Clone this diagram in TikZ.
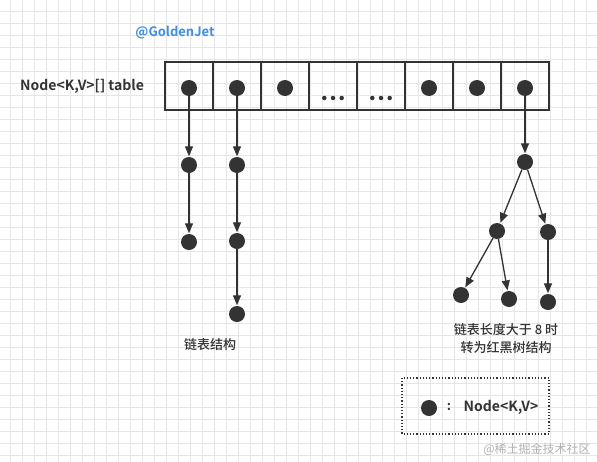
\documentclass[tikz,border=0pt]{standalone}
\usepackage{fontspec}
\setmainfont{Noto Sans CJK SC}[BoldFont={Noto Sans CJK SC Bold}]
\newfontfamily\medfont{Noto Sans CJK SC Medium}
\usetikzlibrary{arrows.meta}
\definecolor{ink}{HTML}{333333}
\definecolor{gridc}{HTML}{E6E6E6}
\definecolor{jet}{HTML}{3D8FE0}
\tikzset{
  dot/.style={circle,fill=ink,inner sep=0pt,minimum size=16pt},
  smalldot/.style={circle,fill=ink,inner sep=0pt,minimum size=4.5pt},
  cell/.style={draw=ink,line width=1.2pt,minimum width=48pt,minimum height=48pt,inner sep=0pt},
  link/.style={draw=ink,line width=1.3pt,-{Triangle[length=10pt,width=8pt]},shorten >=0.5pt},
  lbl/.style={text=ink,font=\medfont\fontsize{13}{18}\selectfont,align=center,inner sep=0pt},
}
\begin{document}
\begin{tikzpicture}[x=1pt,y=-1pt]
\useasboundingbox (0,0) rectangle (597,461);
\fill[white] (0,0) rectangle (597,461);
\begin{scope}[shift={(10,11)}]
\draw[gridc,line width=0.7pt] (-12,-12) grid[step=12pt] (597,461);
\end{scope}
% table
\foreach \i in {0,...,7} {
  \node[cell] (c\i) at (189+48*\i,86) {};
}
\foreach \i in {0,1,2,5,6,7} {
  \node[dot] (t\i) at (189+48*\i,88) {};
}
\foreach \i in {3,4} {
  \foreach \k in {-1,0,1} {
    \node[smalldot] (e\i\k) at (189+48*\i+8.7*\k,98) {};
  }
}
\node[lbl,font=\bfseries\fontsize{14}{16}\selectfont] (title) at (82,86) {Node<K,V>[] table};
\node[lbl,text=jet,font=\bfseries\fontsize{13}{16}\selectfont] (gj) at (175,33) {@GoldenJet};
% chain 1
\node[dot] (a1) at (189,165) {};
\node[dot] (a2) at (189,242) {};
\draw[link] (t0) -- (a1);
\draw[link] (a1) -- (a2);
% chain 2
\node[dot] (b1) at (237,165) {};
\node[dot] (b2) at (237,241) {};
\node[dot] (b3) at (237,314) {};
\draw[link] (t1) -- (b1);
\draw[link] (b1) -- (b2);
\draw[link] (b2) -- (b3);
% tree
\node[dot] (r) at (525,162) {};
\node[dot] (l) at (497,231) {};
\node[dot] (rr) at (548,232) {};
\node[dot] (ll) at (461,295) {};
\node[dot] (lr) at (509,299) {};
\node[dot] (rrr) at (548,302) {};
\draw[link] (t7) -- (r);
\draw[link] (r) -- (l);
\draw[link] (r) -- (rr);
\draw[link] (l) -- (ll);
\draw[link] (l) -- (lr);
\draw[link] (rr) -- (rrr);
% labels
\node[lbl] (lab1) at (210,345) {链表结构};
\node[lbl] (lab2) at (506,339) {链表长度大于 8 时\\转为红黑树结构};
% legend
\draw[ink,line width=1.2pt,dotted] (402,378) rectangle (549,434);
\node[dot] (ld) at (429,408) {};
\node[lbl,font=\bfseries\fontsize{13}{16}\selectfont] (lc) at (449,407) {:};
\node[lbl,font=\bfseries\fontsize{14}{16}\selectfont] (ln) at (501,407) {Node<K,V>};
\node[text=black!30,font=\fontsize{12}{14}\selectfont,inner sep=0pt] (wm) at (537,449) {@稀土掘金技术社区};
\end{tikzpicture}
\end{document}
